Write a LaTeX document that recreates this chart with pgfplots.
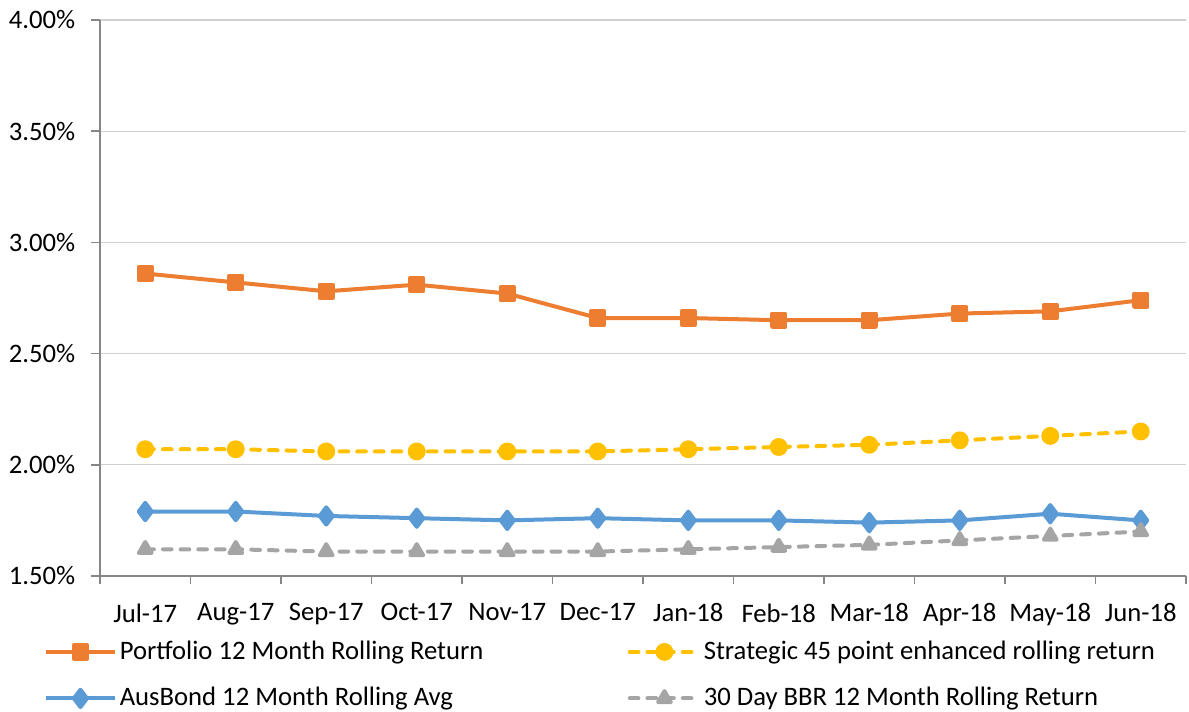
\documentclass[border=0pt]{standalone}
\usepackage{fontspec}
\setmainfont{Carlito}
\usepackage{pgfplots}
\pgfplotsset{compat=1.18}
\definecolor{cOr}{HTML}{ED7D31}
\definecolor{cYe}{HTML}{FFC000}
\definecolor{cBl}{HTML}{5B9BD5}
\definecolor{cGr}{HTML}{A5A5A5}
\definecolor{cAx}{HTML}{868686}
\definecolor{cGrid}{HTML}{D0D0D0}
\begin{document}
\fontsize{20}{24}\selectfont
\begin{tikzpicture}
\path[use as bounding box] (0,0) rectangle (891.75pt,533.25pt);
\begin{axis}[
  at={(75pt,101.25pt)}, anchor=south west,
  scale only axis, width=814.5pt, height=417pt,
  xmin=-0.5, xmax=11.5, ymin=1.5, ymax=4.0,
  axis x line*=bottom, axis y line*=left,
  axis line style={cAx, line width=1.2pt, -},
  xtick={0,...,11},
  xticklabels={Jul-17,Aug-17,Sep-17,Oct-17,Nov-17,Dec-17,Jan-18,Feb-18,Mar-18,Apr-18,May-18,Jun-18},
  major x tick style={draw=none},
  minor xtick={-0.5,0.5,...,11.5},
  minor x tick style={cAx, line width=1.2pt},
  minor tick length=6pt,
  xticklabel style={yshift=-7pt},
  yticklabel style={xshift=-5pt},
  ytick={1.5,2.0,...,4.0},
  yticklabel={\pgfmathprintnumber[fixed,fixed zerofill,precision=2]{\tick}\%},
  /pgf/number format/assume math mode=true,
  major y tick style={cAx, line width=1.2pt},
  major tick length=6.75pt,
  tick align=outside,
  ymajorgrids, grid style={cGrid, line width=1pt},
  tick label style={font=\fontsize{20}{24}\selectfont},
  legend columns=2,
  legend cell align=left,
  legend style={draw=none, fill=none, inner sep=0pt,
    at={(-0.052,-0.111)}, anchor=north west,
    font=\fontsize{20}{24}\selectfont,
    /tikz/every even column/.style={column sep=4pt},
    row sep=14pt},
  legend image code/.code={\draw[mark repeat=2,mark phase=2] plot coordinates {(0pt,0pt) (26pt,0pt) (52pt,0pt)};},
  every axis plot/.append style={line width=3pt, line join=round},
]
\addplot[cOr, mark=square*, mark size=5pt, mark options={solid}] coordinates {
(0,2.86) (1,2.82) (2,2.78) (3,2.81) (4,2.77) (5,2.66) (6,2.66) (7,2.65) (8,2.65) (9,2.68) (10,2.69) (11,2.74)};
\addlegendentry{\makebox[375pt][l]{Portfolio 12 Month Rolling Return}}
\addplot[cYe, line cap=round, dash pattern=on 6.5pt off 6.75pt, mark=*, mark size=5.2pt, mark options={solid}] coordinates {
(0,2.07) (1,2.07) (2,2.06) (3,2.06) (4,2.06) (5,2.06) (6,2.07) (7,2.08) (8,2.09) (9,2.11) (10,2.13) (11,2.15)};
\addlegendentry{Strategic 45 point enhanced rolling return}
\addplot[cBl, mark=diamond*, mark size=6.5pt, mark options={solid}] coordinates {
(0,1.79) (1,1.79) (2,1.77) (3,1.76) (4,1.75) (5,1.76) (6,1.75) (7,1.75) (8,1.74) (9,1.75) (10,1.78) (11,1.75)};
\addlegendentry{\makebox[375pt][l]{AusBond 12 Month Rolling Avg}}
\addplot[cGr, line cap=round, dash pattern=on 6.5pt off 6.75pt, mark=triangle*, mark size=5.5pt, mark options={solid}] coordinates {
(0,1.62) (1,1.62) (2,1.61) (3,1.61) (4,1.61) (5,1.61) (6,1.62) (7,1.63) (8,1.64) (9,1.66) (10,1.68) (11,1.70)};
\addlegendentry{30 Day BBR 12 Month Rolling Return}
\end{axis}
\end{tikzpicture}
\end{document}
